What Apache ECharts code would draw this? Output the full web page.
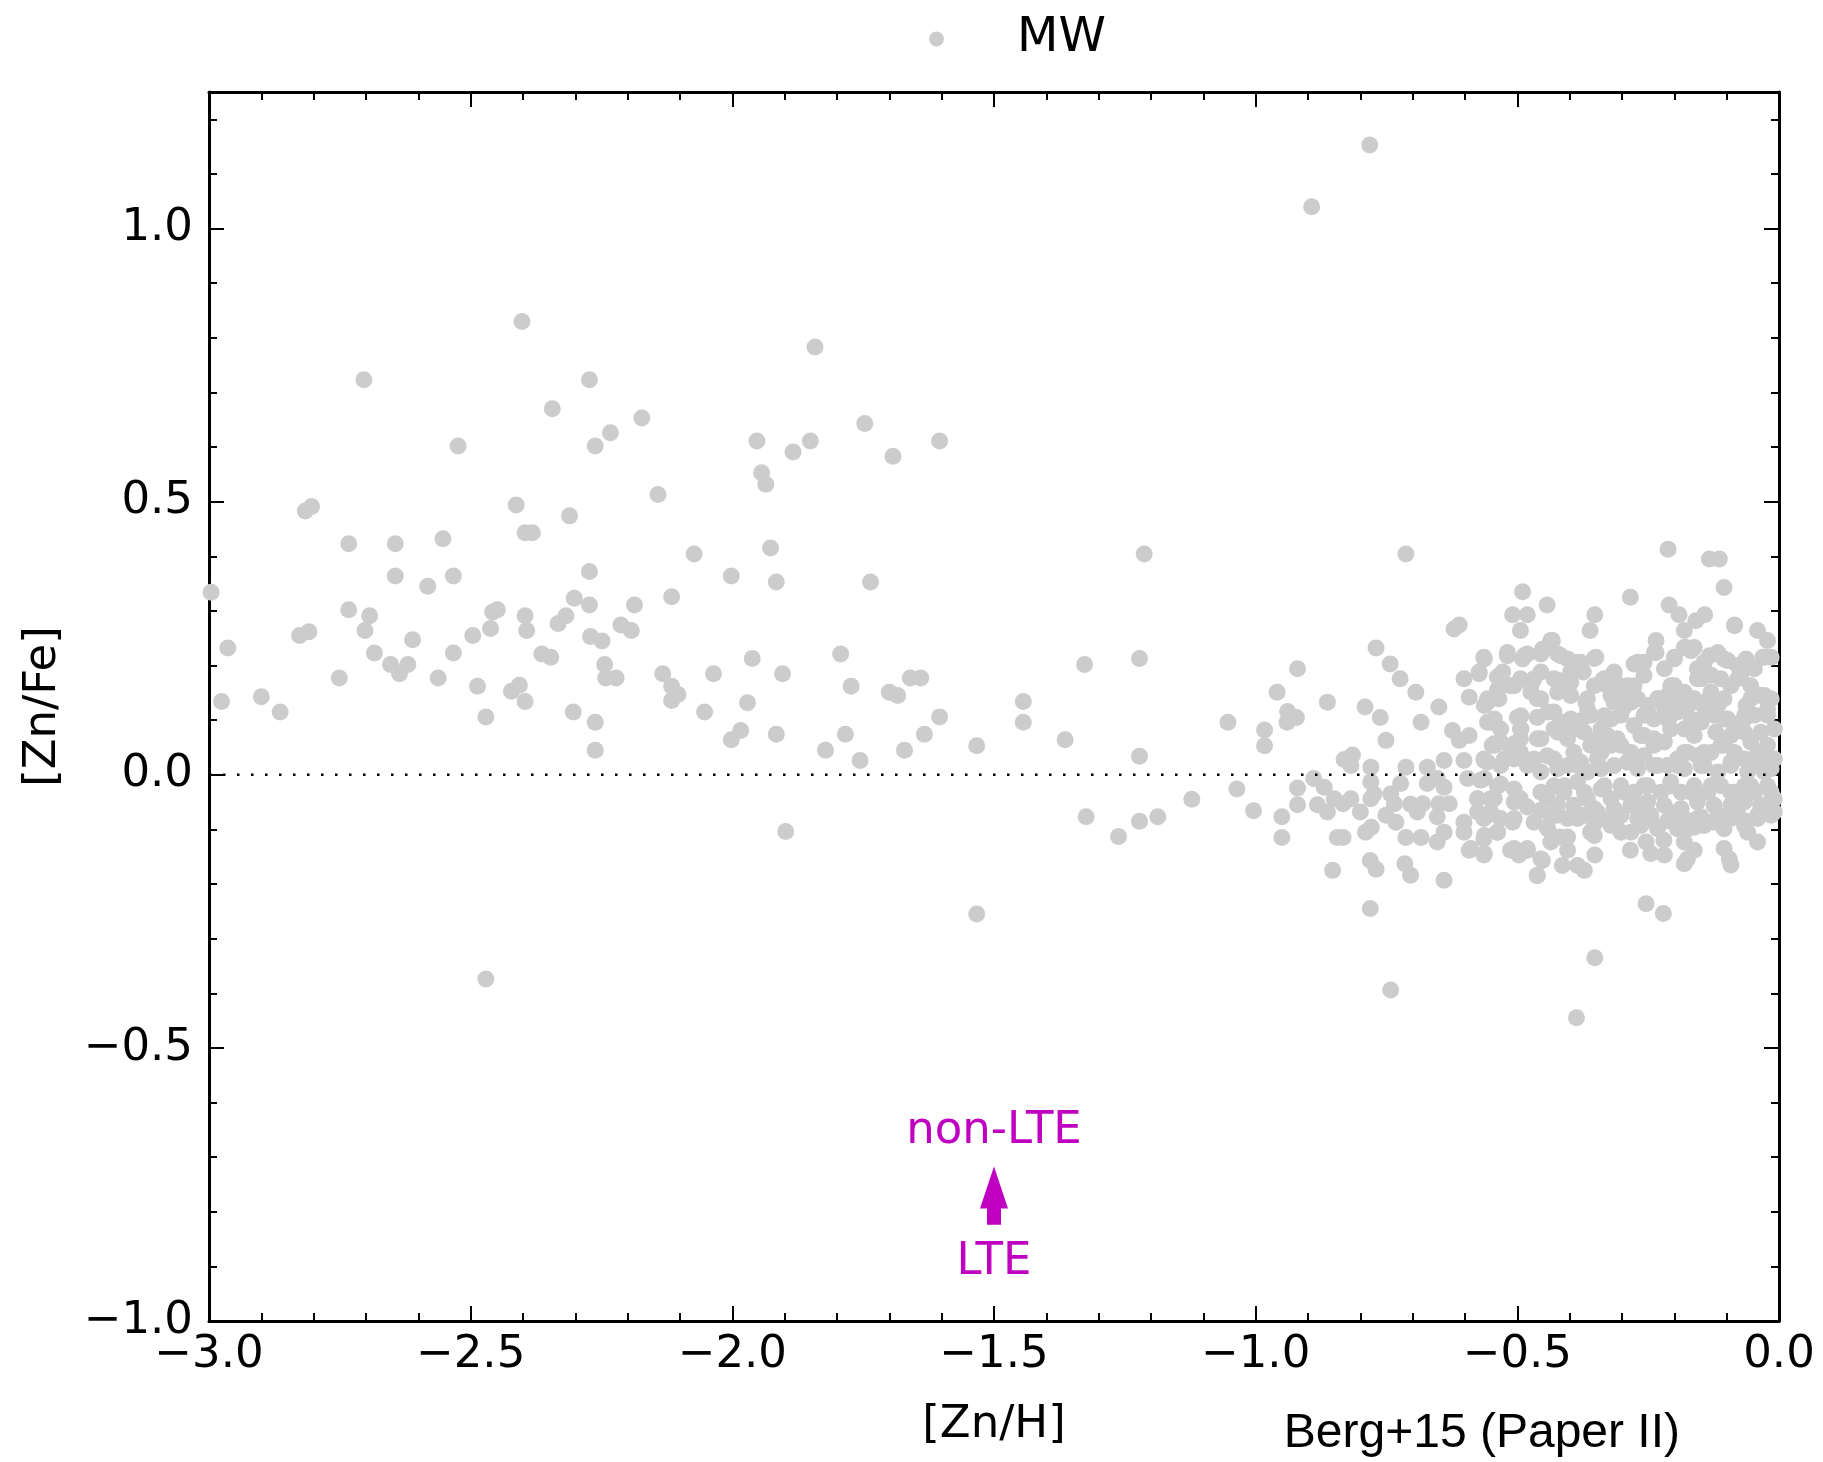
<!DOCTYPE html>
<html>
<head>
<meta charset="utf-8">
<title>[Zn/Fe] vs [Zn/H]</title>
<script src="https://cdn.jsdelivr.net/npm/echarts@6/dist/echarts.min.js"></script>
<style>
  html, body { margin: 0; padding: 0; background: #fff; }
  #chart { width: 1823px; height: 1462px; }
</style>
</head>
<body>
<div id="chart"></div>
<script>
// MW stars, [Zn/H] vs [Zn/Fe]
// halo / metal-poor part
const mwHalo = [
  [-2.996,0.334],[-2.964,0.232],[-2.976,0.134],[-2.90,0.143],[-2.864,0.115],[-2.827,0.255],[-2.809,0.262],
  [-2.816,0.483],[-2.804,0.491],[-2.751,0.177],[-2.733,0.423],[-2.733,0.302],[-2.704,0.723],[-2.693,0.291],
  [-2.702,0.264],[-2.684,0.223],[-2.653,0.202],[-2.644,0.423],[-2.644,0.364],[-2.636,0.185],[-2.62,0.202],
  [-2.611,0.247],[-2.582,0.345],[-2.562,0.177],[-2.553,0.432],[-2.533,0.364],[-2.533,0.223],[-2.524,0.602],
  [-2.496,0.255],[-2.487,0.162],[-2.471,0.106],[-2.471,-0.374],[-2.462,0.268],[-2.458,0.298],[-2.449,0.302],
  [-2.422,0.153],[-2.413,0.494],[-2.407,0.164],[-2.402,0.830],[-2.396,0.134],[-2.396,0.291],[-2.396,0.443],
  [-2.382,0.443],[-2.393,0.264],[-2.364,0.221],[-2.344,0.670],[-2.347,0.215],[-2.333,0.277],[-2.318,0.291],
  [-2.311,0.474],[-2.304,0.115],[-2.302,0.323],[-2.273,0.723],[-2.273,0.372],[-2.273,0.311],[-2.271,0.253],
  [-2.262,0.602],[-2.262,0.096],[-2.262,0.045],[-2.249,0.245],[-2.244,0.202],[-2.233,0.626],[-2.242,0.177],
  [-2.222,0.177],[-2.213,0.274],[-2.193,0.264],[-2.187,0.311],[-2.173,0.653],[-2.142,0.513],[-2.133,0.185],
  [-2.116,0.326],[-2.116,0.162],[-2.116,0.136],[-2.104,0.147],[-2.073,0.404],[-2.053,0.115],[-2.036,0.185],
  [-2.002,0.364],[-2.002,0.064],[-1.984,0.081],[-1.971,0.132],[-1.962,0.213],[-1.953,0.611],[-1.944,0.553],
  [-1.936,0.532],[-1.927,0.415],[-1.916,0.353],[-1.916,0.074],[-1.904,0.185],[-1.898,-0.104],[-1.884,0.591],
  [-1.851,0.611],[-1.842,0.783],[-1.822,0.045],[-1.793,0.221],[-1.784,0.074],[-1.773,0.162],[-1.756,0.026],
  [-1.747,0.643],[-1.736,0.353],[-1.700,0.151],[-1.693,0.583],[-1.684,0.145],[-1.671,0.045],[-1.660,0.177],
  [-1.640,0.177],[-1.633,0.074],[-1.604,0.611],[-1.604,0.106],[-1.533,0.053],[-1.533,-0.255],[-1.444,0.134],
  [-1.444,0.096],[-1.364,0.064],[-1.327,0.202],[-1.324,-0.077],[-1.262,-0.113],[-1.222,0.213],[-1.222,0.034],
  [-1.213,0.404],[-1.222,-0.085],[-1.187,-0.077],[-1.122,-0.045],[-1.053,0.096],[-1.036,-0.026],[-1.004,-0.066]
];

// transition region, -1.0 < [Zn/H] < -0.53
const mwThick = [
  [-0.983,0.082],[-0.983,0.053],[-0.959,0.151],[-0.939,0.116],[-0.922,0.105],[-0.940,0.096],[-0.920,0.194],
  [-0.950,-0.077],[-0.950,-0.115],[-0.920,-0.024],[-0.920,-0.055],[-0.889,-0.007],[-0.882,-0.055],[-0.869,-0.023],
  [-0.863,-0.068],[-0.863,0.133],[-0.850,-0.044],[-0.833,-0.053],[-0.818,-0.044],[-0.853,-0.175],[-0.844,-0.115],
  [-0.833,-0.115],[-0.831,0.028],[-0.815,0.036],[-0.818,0.017],[-0.800,-0.068],[-0.791,0.124],[-0.790,-0.105],
  [-0.779,-0.096],[-0.781,-0.157],[-0.770,-0.173],[-0.781,-0.245],[-0.770,0.232],[-0.762,0.105],[-0.780,0.014],
  [-0.780,-0.013],[-0.774,-0.035],[-0.780,-0.044],[-0.751,0.063],[-0.743,0.203],[-0.742,-0.035],[-0.751,-0.074],
  [-0.732,-0.087],[-0.735,-0.053],[-0.742,-0.394],[-0.724,0.176],[-0.723,-0.016],[-0.713,0.014],[-0.713,-0.115],
  [-0.715,-0.163],[-0.704,-0.184],[-0.704,-0.054],[-0.694,0.151],[-0.691,-0.068],[-0.684,0.096],[-0.684,-0.115],
  [-0.681,-0.053],[-0.672,0.014],[-0.672,-0.016],[-0.653,-0.007],[-0.650,0.124],[-0.650,-0.053],[-0.653,-0.077],
  [-0.653,-0.123],[-0.640,-0.105],[-0.640,-0.193],[-0.640,0.026],[-0.640,-0.023],[-0.630,-0.053],[-0.624,0.081],
  [-0.621,0.267],[-0.611,0.274],[-0.611,0.063],[-0.602,0.176],[-0.602,0.026],[-0.602,-0.087],[-0.602,-0.105],
  [-0.592,0.142],[-0.592,0.072],[-0.595,-0.007],[-0.592,-0.138],[-0.573,0.185],[-0.563,0.212],[-0.563,0.127],
  [-0.563,0.026],[-0.563,-0.007],[-0.563,-0.111],[-0.563,-0.144],[-0.557,0.096],[-0.576,-0.044],[-0.576,-0.068],
  [-0.551,-0.068],[-0.544,0.054],[-0.538,0.179],[-0.538,0.155],[-0.538,-0.021],[-0.538,-0.105],[-0.544,-0.044],
  [-0.893,1.040],[-0.782,1.153],[-0.713,0.404]
];

// outer points of the disk cloud
const mwDiskEdge = [
  [-0.490,0.335],[-0.443,0.311],[-0.509,0.293],[-0.481,0.293],[-0.494,0.264],[-0.352,0.293],[-0.361,0.264],
  [-0.284,0.325],[-0.210,0.311],[-0.191,0.293],[-0.181,0.264],[-0.159,0.282],[-0.142,0.293],[-0.085,0.274],
  [-0.041,0.264],[-0.022,0.246],[-0.015,0.215],[-0.212,0.413],[-0.133,0.395],[-0.114,0.395],[-0.105,0.343],
  [-0.462,-0.185],[-0.452,-0.157],[-0.414,-0.166],[-0.385,-0.166],[-0.372,-0.175],[-0.404,-0.138],[-0.352,-0.147],
  [-0.513,-0.138],[-0.497,-0.147],[-0.481,-0.138],[-0.509,-0.087],[-0.443,-0.096],[-0.436,-0.123],[-0.420,-0.114],
  [-0.404,-0.114],[-0.353,-0.111],[-0.284,-0.138],[-0.254,-0.123],[-0.245,-0.144],[-0.219,-0.147],[-0.181,-0.163],
  [-0.175,-0.154],[-0.162,-0.138],[-0.105,-0.135],[-0.095,-0.154],[-0.092,-0.165],[-0.060,-0.105],[-0.041,-0.123],
  [-0.015,-0.074],[-0.302,-0.105],[-0.254,-0.236],[-0.221,-0.254],[-0.352,-0.335],[-0.387,-0.445],
  [-0.181,-0.123],[-0.220,-0.120],[-0.462,-0.184],[-0.455,-0.154],[-0.506,-0.135],[-0.589,-0.135],[-0.564,-0.147]
];

// dense core of the disk cloud
const mwDiskCore = [
  [-0.433,0.246],[-0.443,0.233],[-0.455,0.221],[-0.423,0.221],[-0.404,0.212],[-0.385,0.206],[-0.353,0.213],
  [-0.374,0.188],[-0.481,0.221],[-0.490,0.212],[-0.519,0.218],[-0.528,0.188],[-0.235,0.246],[-0.235,0.224],
  [-0.200,0.212],[-0.178,0.233],[-0.162,0.233],[-0.156,0.194],[-0.133,0.218],[-0.117,0.221],[-0.105,0.212],
  [-0.063,0.212],[-0.079,0.200],[-0.031,0.215],[-0.277,0.203],[-0.258,0.206],[-0.219,0.194],[-0.315,0.185],
  [-0.337,0.173],[-0.309,0.166],
  [-0.532,0.163],[-0.513,0.163],[-0.494,0.176],[-0.468,0.176],[-0.455,0.188],[-0.474,0.151],[-0.455,0.139],
  [-0.423,0.151],[-0.423,0.173],[-0.398,0.169],[-0.369,0.133],[-0.353,0.163],[-0.328,0.163],[-0.302,0.151],
  [-0.277,0.163],[-0.270,0.139],[-0.251,0.127],[-0.232,0.139],[-0.213,0.145],[-0.200,0.163],[-0.181,0.151],
  [-0.162,0.139],[-0.149,0.176],[-0.130,0.151],[-0.111,0.176],[-0.092,0.163],[-0.073,0.182],[-0.054,0.163],
  [-0.035,0.145],[-0.015,0.139],[-0.063,0.127],[-0.117,0.127],[-0.143,0.133],[-0.175,0.127],[-0.219,0.124],
  [-0.296,0.124],[-0.315,0.133],[-0.557,0.139],[-0.535,0.139],
  [-0.544,0.102],[-0.500,0.105],[-0.494,0.084],[-0.462,0.105],[-0.430,0.115],[-0.417,0.096],[-0.455,0.066],
  [-0.430,0.084],[-0.398,0.084],[-0.379,0.099],[-0.360,0.109],[-0.340,0.084],[-0.321,0.102],[-0.302,0.109],
  [-0.277,0.090],[-0.258,0.109],[-0.239,0.102],[-0.213,0.102],[-0.194,0.115],[-0.168,0.102],[-0.149,0.096],
  [-0.124,0.109],[-0.098,0.102],[-0.085,0.090],[-0.066,0.102],[-0.047,0.109],[-0.022,0.109],[-0.009,0.084],
  [-0.035,0.078],[-0.066,0.078],[-0.092,0.072],[-0.121,0.078],[-0.162,0.072],[-0.181,0.084],[-0.239,0.066],
  [-0.264,0.072],[-0.309,0.066],[-0.328,0.072],[-0.372,0.078],[-0.404,0.066],[-0.548,0.054],[-0.532,0.060],
  [-0.513,0.051],[-0.494,0.066],
  [-0.557,0.023],[-0.532,0.017],[-0.506,0.029],[-0.494,0.041],[-0.468,0.029],[-0.443,0.035],[-0.423,0.011],
  [-0.392,0.041],[-0.379,0.023],[-0.360,0.054],[-0.340,0.041],[-0.315,0.017],[-0.302,0.054],[-0.283,0.041],
  [-0.258,0.035],[-0.239,0.054],[-0.219,0.060],[-0.194,0.029],[-0.175,0.041],[-0.156,0.035],[-0.130,0.041],
  [-0.111,0.054],[-0.085,0.041],[-0.066,0.029],[-0.041,0.041],[-0.022,0.054],[-0.009,0.029],[-0.028,0.005],
  [-0.060,0.005],[-0.092,0.017],[-0.117,0.005],[-0.149,0.017],[-0.181,0.011],[-0.213,0.017],[-0.239,0.017],
  [-0.270,0.011],[-0.290,0.023],[-0.340,0.011],[-0.366,0.005],[-0.404,0.017],[-0.455,0.005],[-0.481,0.017],
  [-0.570,-0.010],[-0.532,-0.017],[-0.506,-0.026],[-0.494,-0.044],[-0.455,-0.032],[-0.430,-0.020],[-0.443,-0.044],
  [-0.411,-0.032],[-0.385,-0.013],[-0.366,-0.044],[-0.340,-0.026],[-0.321,-0.044],[-0.302,-0.020],[-0.277,-0.032],
  [-0.251,-0.020],[-0.226,-0.032],[-0.207,-0.013],[-0.187,-0.032],[-0.162,-0.020],[-0.136,-0.032],[-0.111,-0.020],
  [-0.085,-0.032],[-0.066,-0.020],[-0.047,-0.032],[-0.022,-0.020],[-0.009,-0.044],[-0.035,-0.056],[-0.066,-0.050],
  [-0.092,-0.056],[-0.124,-0.056],[-0.156,-0.050],[-0.187,-0.062],[-0.219,-0.056],[-0.251,-0.050],[-0.283,-0.056],
  [-0.315,-0.062],[-0.353,-0.062],[-0.392,-0.056],[-0.423,-0.056],[-0.455,-0.065],[-0.481,-0.059],[-0.506,-0.050],
  [-0.436,-0.077],[-0.404,-0.080],[-0.372,-0.074],[-0.340,-0.080],[-0.302,-0.074],[-0.270,-0.080],[-0.245,-0.074],
  [-0.213,-0.084],[-0.181,-0.080],[-0.149,-0.077],[-0.124,-0.087],[-0.092,-0.080],[-0.066,-0.084],[-0.041,-0.074],
  [-0.009,-0.068],[-0.194,-0.099],[-0.162,-0.096],[-0.264,-0.093],[-0.353,-0.090],[-0.468,-0.087],[-0.532,-0.080],
  [-0.557,-0.074]
];

// further core stars, read from a closer look at the cloud
const mwDiskFill = [
  [-0.564,0.215],[-0.573,0.188],[-0.519,0.224],[-0.487,0.218],[-0.532,0.182],[-0.506,0.163],[-0.462,0.139],
  [-0.474,0.163],[-0.557,0.133],[-0.551,0.096],[-0.532,0.084],[-0.493,0.108],[-0.493,0.084],[-0.544,0.057],
  [-0.506,0.057],[-0.564,0.029],[-0.525,0.029],[-0.487,0.029],[-0.462,0.066],[-0.576,-0.044],[-0.551,-0.044],
  [-0.500,-0.044],[-0.564,-0.080],[-0.506,-0.080],[-0.538,-0.105],[-0.564,-0.117],[-0.481,-0.135],
  [-0.436,0.246],[-0.452,0.230],[-0.417,0.218],[-0.379,0.206],[-0.350,0.215],[-0.238,0.224],[-0.270,0.206],
  [-0.200,0.215],[-0.181,0.233],[-0.168,0.227],[-0.143,0.206],[-0.117,0.224],[-0.098,0.209],[-0.066,0.206],
  [-0.028,0.215],[-0.085,0.273],
  [-0.430,0.176],[-0.398,0.188],[-0.334,0.176],[-0.315,0.188],[-0.289,0.163],[-0.258,0.182],[-0.207,0.163],
  [-0.156,0.176],[-0.130,0.182],[-0.079,0.176],[-0.047,0.194],[-0.398,0.145],[-0.366,0.139],[-0.321,0.145],
  [-0.283,0.133],[-0.232,0.139],[-0.194,0.139],[-0.156,0.133],[-0.105,0.139],[-0.054,0.139],[-0.028,0.145],
  [-0.442,0.115],[-0.398,0.102],[-0.366,0.121],[-0.334,0.108],[-0.251,0.115],[-0.207,0.108],[-0.143,0.108],
  [-0.105,0.102],[-0.066,0.108],[-0.022,0.121],
  [-0.423,0.078],[-0.385,0.084],[-0.347,0.066],[-0.321,0.054],[-0.258,0.072],[-0.207,0.084],[-0.181,0.041],
  [-0.143,0.041],[-0.105,0.054],[-0.054,0.060],[-0.028,0.041],[-0.430,0.029],[-0.385,0.017],[-0.347,0.029],
  [-0.270,0.029],[-0.232,0.017],[-0.194,0.017],[-0.143,0.017],[-0.092,0.023],[-0.041,0.023],[-0.015,0.011],
  [-0.442,-0.044],[-0.410,-0.020],[-0.372,-0.032],[-0.334,-0.020],[-0.296,-0.032],[-0.258,-0.020],[-0.207,-0.020],
  [-0.168,-0.032],[-0.130,-0.020],[-0.092,-0.032],[-0.054,-0.020],[-0.015,-0.032],[-0.423,-0.074],[-0.385,-0.080],
  [-0.347,-0.068],[-0.309,-0.080],[-0.270,-0.056],[-0.245,-0.080],[-0.194,-0.068],[-0.156,-0.080],[-0.117,-0.074],
  [-0.079,-0.062],[-0.041,-0.080],[-0.442,-0.099],[-0.360,-0.105],[-0.321,-0.093],[-0.283,-0.105],[-0.232,-0.099],
  [-0.181,-0.105],[-0.143,-0.093],[-0.105,-0.099],[-0.066,-0.093]
];

// solar reference line and the LTE -> non-LTE arrow
const zeroLine = [[-3, 0], [0, 0]];
const arrowX = -1.5;
const arrowTail = -0.824;
const arrowTip = -0.717;
const arrowLabels = [['non-LTE', -0.652], ['LTE', -0.893]];

const xTicks = { min: -3, max: 0, interval: 0.5 };
const yTicks = { min: -1, max: 1.25, interval: 0.5, minorInterval: 0.1 };

const mwPoints = mwHalo.concat(mwThick, mwDiskEdge, mwDiskCore, mwDiskFill);

const FONT = 'DejaVu Sans';
const MAGENTA = '#c000c0';

function fmtTick(v) {
  if (Math.abs(v * 2 - Math.round(v * 2)) > 1e-6) return '';
  return v.toFixed(1).replace('-', '\u2212');
}

const lineStyle = { color: '#000', width: 3 };
const tickStyle = { color: '#000', width: 2 };

function xAxisOf(pos, withLabels) {
  return {
    type: 'value', position: pos, min: xTicks.min, max: xTicks.max, interval: xTicks.interval,
    name: withLabels ? '[Zn/H]' : '', nameLocation: 'middle', nameGap: 82,
    nameTextStyle: { fontFamily: FONT, fontSize: 45, color: '#000' },
    axisLine: { show: true, onZero: false, lineStyle: lineStyle },
    axisTick: { show: true, inside: true, length: 15, lineStyle: tickStyle },
    minorTick: { show: true, splitNumber: 5, length: 8, lineStyle: tickStyle },
    axisLabel: { show: withLabels, margin: 12, formatter: fmtTick, fontFamily: FONT, fontSize: 45, color: '#000' },
    splitLine: { show: false }
  };
}

function yAxisOf(pos, withLabels) {
  return {
    type: 'value', position: pos, min: yTicks.min, max: yTicks.max, interval: yTicks.interval,
    name: withLabels ? '[Zn/Fe]' : '', nameLocation: 'middle', nameGap: 143,
    nameTextStyle: { fontFamily: FONT, fontSize: 45, color: '#000' },
    axisLine: { show: true, onZero: false, lineStyle: lineStyle },
    axisTick: { show: true, inside: true, length: 15, lineStyle: tickStyle },
    axisLabel: { show: withLabels, margin: 16, formatter: fmtTick, fontFamily: FONT, fontSize: 45, color: '#000' },
    splitLine: { show: false }
  };
}

// extra y axes only for the 0.1 minor ticks (range top is 1.25, not a multiple of 0.5)
function yMinorOf(pos) {
  return {
    type: 'value', position: pos, min: yTicks.min, max: yTicks.max, interval: yTicks.minorInterval,
    axisLine: { show: false, onZero: false },
    axisTick: { show: true, inside: true, length: 8, lineStyle: tickStyle },
    axisLabel: { show: false },
    splitLine: { show: false }
  };
}

const chart = echarts.init(document.getElementById('chart'));

chart.setOption({
  animation: false,
  backgroundColor: '#fff',
  grid: { left: 209, right: 44, top: 92, bottom: 141 },
  legend: {
    data: ['MW'],
    left: 924, top: 10,
    itemWidth: 15, itemHeight: 15,
    formatter: '{t|MW}',
    textStyle: {
      rich: { t: { fontFamily: FONT, fontSize: 48, color: '#000', padding: [0, 0, 0, 68] } }
    }
  },
  xAxis: [xAxisOf('bottom', true), xAxisOf('top', false)],
  yAxis: [yAxisOf('left', true), yMinorOf('left'), yAxisOf('right', false), yMinorOf('right')],
  graphic: [{
    type: 'text', right: 143, top: 1410,
    style: { text: 'Berg+15 (Paper II)', font: '48px "Liberation Sans", Arial, sans-serif', fill: '#000' }
  }],
  series: [
    {
      name: 'MW', type: 'scatter', data: mwPoints,
      symbol: 'circle', symbolSize: 17,
      itemStyle: { color: '#cccccc', opacity: 1 },
      z: 2
    },
    {
      name: 'zero', type: 'line', data: zeroLine,
      symbol: 'none', silent: true,
      lineStyle: { color: '#000', width: 2.5, type: [2.5, 11.5] },
      z: 3
    },
    {
      name: 'note', type: 'custom', data: [[arrowX, arrowTip]],
      silent: true, z: 4,
      renderItem: function (params, api) {
        const tip = api.coord([arrowX, arrowTip]);
        const tail = api.coord([arrowX, arrowTail]);
        const x = tip[0], headLen = 42, headHalf = 14, shaftHalf = 7;
        const children = [{
          type: 'polygon',
          shape: { points: [
            [x, tip[1]], [x + headHalf, tip[1] + headLen], [x + shaftHalf, tip[1] + headLen],
            [x + shaftHalf, tail[1]], [x - shaftHalf, tail[1]], [x - shaftHalf, tip[1] + headLen],
            [x - headHalf, tip[1] + headLen]
          ] },
          style: { fill: MAGENTA }
        }];
        arrowLabels.forEach(function (l) {
          const p = api.coord([arrowX, l[1]]);
          children.push({
            type: 'text', x: p[0], y: p[1],
            style: { text: l[0], fill: MAGENTA, font: '45px "DejaVu Sans"', align: 'center', verticalAlign: 'middle' }
          });
        });
        return { type: 'group', children: children };
      }
    }
  ]
});
</script>
</body>
</html>
